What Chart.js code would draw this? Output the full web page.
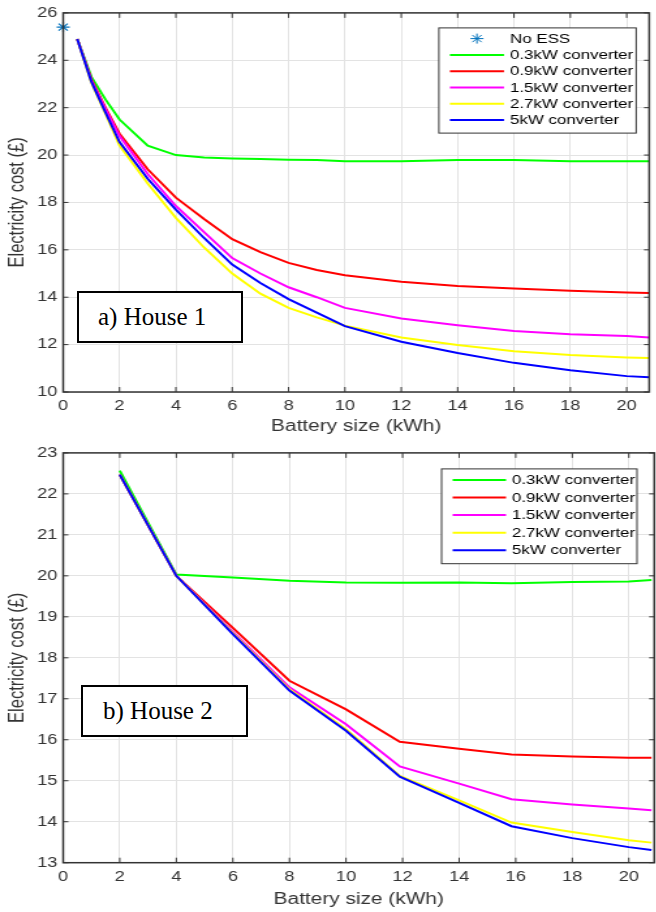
<!DOCTYPE html>
<html>
<head>
<meta charset="utf-8">
<script src="https://cdn.jsdelivr.net/npm/chart.js@4.4.1/dist/chart.umd.min.js"></script>
<style>
  body { margin: 0; background: #fff; width: 656px; height: 912px; overflow: hidden; position: relative; }
  .wrap { position: absolute; left: 0; transform-origin: 0 0; }
  .tag {
    position: absolute; box-sizing: border-box; border: 2px solid #000; background: #fff;
    font-family: "Liberation Serif", "Times New Roman", serif; font-size: 25px; color: #000;
    height: 52px; line-height: 47px; white-space: nowrap;
  }
</style>
</head>
<body>
<div class="wrap" id="w1"><canvas id="house1"></canvas></div>
<div class="wrap" id="w2"><canvas id="house2"></canvas></div>
<div class="tag" style="left:77px;top:291px;width:166px;padding-left:19px">a) House 1</div>
<div class="tag" style="left:81px;top:685px;width:167px;padding-left:20px">b) House 2</div>
<script>
// the original figure is stretched sideways, so draw narrow and widen with css
const SX = 1.3;

const seriesLabels = ['0.3kW converter', '0.9kW converter', '1.5kW converter', '2.7kW converter', '5kW converter'];
const seriesColors = ['#00ff00', '#ff0000', '#ff00ff', '#ffff00', '#0000ff'];

// House 1 (battery size kWh -> cost)
const xs1 = [0.5, 1, 1.5, 2, 3, 4, 5, 6, 7, 8, 9, 10, 12, 14, 16, 18, 20, 20.8];
const h1_03 = [24.9, 23.3, 22.35, 21.5, 20.4, 20.0, 19.9, 19.86, 19.83, 19.8, 19.79, 19.74, 19.74, 19.79, 19.79, 19.74, 19.74, 19.74];
const h1_09 = [24.9, 23.2, 22.0, 20.9, 19.4, 18.2, 17.3, 16.45, 15.9, 15.45, 15.15, 14.93, 14.65, 14.47, 14.37, 14.27, 14.2, 14.18];
const h1_15 = [24.9, 23.15, 21.95, 20.8, 19.2, 17.85, 16.75, 15.65, 15.0, 14.42, 14.0, 13.55, 13.1, 12.82, 12.57, 12.44, 12.36, 12.3];
const h1_27 = [24.9, 23.05, 21.75, 20.4, 18.8, 17.35, 16.1, 15.0, 14.15, 13.55, 13.15, 12.8, 12.3, 11.98, 11.72, 11.56, 11.46, 11.43];
const h1_5 = [24.9, 23.1, 21.8, 20.55, 19.0, 17.7, 16.5, 15.38, 14.6, 13.92, 13.35, 12.78, 12.12, 11.65, 11.23, 10.92, 10.67, 10.62];
const noEssX = [0];
const noEssY = [25.4];

// House 2
const xs2 = [2, 4, 6, 8, 10, 11.9, 14, 15.85, 18, 20, 20.8];
const h2_03 = [22.57, 20.03, 19.96, 19.88, 19.84, 19.83, 19.84, 19.82, 19.85, 19.86, 19.9];
const h2_09 = [22.47, 20.0, 18.73, 17.44, 16.74, 15.95, 15.78, 15.64, 15.59, 15.56, 15.56];
const h2_15 = [22.47, 20.0, 18.63, 17.28, 16.38, 15.35, 14.93, 14.55, 14.42, 14.32, 14.28];
const h2_27 = [22.47, 20.0, 18.6, 17.23, 16.26, 15.12, 14.52, 13.98, 13.75, 13.55, 13.49];
const h2_5 = [22.47, 20.0, 18.58, 17.2, 16.22, 15.1, 14.46, 13.89, 13.6, 13.38, 13.31];

Chart.defaults.font.family = '"Liberation Sans", Arial, sans-serif';
Chart.defaults.color = '#333';

// legend drawn inside the plot with a box round it
const boxLegend = {
  id: 'boxLegend',
  afterDraw(chart, args, o) {
    const { ctx, chartArea: a } = chart;
    const items = chart.data.datasets;
    const x0 = a.right - o.right - o.width;
    const y0 = a.top + o.top;
    const h = o.padTop + o.padBottom + (items.length - 1) * o.rowH;
    ctx.save();
    ctx.fillStyle = '#fff';
    ctx.fillRect(x0, y0, o.width, h);
    ctx.strokeStyle = '#333';
    ctx.lineWidth = 1;
    ctx.strokeRect(x0, y0, o.width, h);
    ctx.font = '13px "Liberation Sans", Arial, sans-serif';
    ctx.textBaseline = 'middle';
    items.forEach((ds, i) => {
      const y = y0 + o.padTop + i * o.rowH;
      if (ds.showLine === false) {
        ctx.strokeStyle = ds.borderColor;
        Chart.helpers.drawPoint(ctx, { pointStyle: 'star', radius: 5, rotation: 0, borderWidth: 1.2 }, x0 + (o.lineFrom + o.lineTo) / 2, y);
      } else {
        ctx.strokeStyle = ds.borderColor;
        ctx.lineWidth = 2;
        ctx.beginPath();
        ctx.moveTo(x0 + o.lineFrom, y);
        ctx.lineTo(x0 + o.lineTo, y);
        ctx.stroke();
      }
      ctx.fillStyle = '#000';
      ctx.fillText(ds.label, x0 + o.textX, y + 0.5);
    });
    ctx.restore();
  }
};

// matlab style box with inward ticks
const boxFrame = {
  id: 'boxFrame',
  afterDatasetsDraw(chart) {
    const { ctx, chartArea: a, scales: { x, y } } = chart;
    ctx.save();
    ctx.strokeStyle = '#333';
    ctx.lineWidth = 1;
    ctx.beginPath();
    x.ticks.forEach(t => {
      const px = x.getPixelForValue(t.value);
      ctx.moveTo(px, a.bottom); ctx.lineTo(px, a.bottom - 5);
      ctx.moveTo(px, a.top); ctx.lineTo(px, a.top + 5);
    });
    y.ticks.forEach(t => {
      const py = y.getPixelForValue(t.value);
      ctx.moveTo(a.left, py); ctx.lineTo(a.left + 4, py);
      ctx.moveTo(a.right, py); ctx.lineTo(a.right - 4, py);
    });
    ctx.stroke();
    ctx.lineWidth = 1.5;
    ctx.strokeRect(a.left, a.top, a.width, a.height);
    ctx.restore();
  }
};

function lineSets(xs, ys) {
  return ys.map((vals, i) => ({
    label: seriesLabels[i],
    data: xs.map((x, j) => ({ x: x, y: vals[j] })),
    borderColor: seriesColors[i],
    backgroundColor: seriesColors[i],
    borderWidth: 2,
    pointRadius: 0,
    tension: 0,
    fill: false,
    order: 4 - i
  }));
}

function makeChart(id, wrapId, heightPx, datasets, yMin, yMax, yStep, xMax, pad, xAxisH, titlePad, legendOpts) {
  const wrap = document.getElementById(wrapId);
  wrap.style.width = (656 / SX) + 'px';
  wrap.style.height = heightPx + 'px';
  wrap.style.transform = 'scaleX(' + SX + ')';
  return new Chart(document.getElementById(id), {
    type: 'line',
    data: { datasets: datasets },
    options: {
      responsive: true,
      maintainAspectRatio: false,
      animation: false,
      layout: { padding: pad },
      plugins: { legend: { display: false }, tooltip: { enabled: false }, boxLegend: legendOpts },
      scales: {
        x: {
          type: 'linear', min: 0, max: xMax,
          grid: { color: '#e3e3e3', drawTicks: false },
          border: { display: false },
          ticks: { stepSize: 2, includeBounds: false, padding: 6, maxRotation: 0, font: { size: 14 }, color: '#333' },
          title: { display: true, text: 'Battery size (kWh)', font: { size: 16 }, color: '#333', padding: { top: 0, bottom: titlePad } },
          afterFit(s) { s.height = xAxisH; }
        },
        y: {
          min: yMin, max: yMax,
          grid: { color: '#e3e3e3', drawTicks: false },
          border: { display: false },
          ticks: { stepSize: yStep, padding: 4.5, font: { size: 14 }, color: '#333' },
          title: { display: true, text: 'Electricity cost (£)', font: { size: 16.5 }, color: '#333', padding: { top: 4, bottom: 0 } },
          afterFit(s) { s.width = 48.5; }
        }
      }
    },
    plugins: [boxFrame, boxLegend]
  });
}

const sets1 = [{
  label: 'No ESS',
  data: noEssX.map((x, j) => ({ x: x, y: noEssY[j] })),
  showLine: false,
  clip: false,
  pointStyle: 'star',
  pointRadius: 5,
  pointBorderWidth: 1.2,
  borderColor: '#0072bd',
  backgroundColor: '#0072bd',
  order: 0
}].concat(lineSets(xs1, [h1_03, h1_09, h1_15, h1_27, h1_5]));

makeChart('house1', 'w1', 440, sets1, 10, 26, 2, 20.8,
  { top: 11, right: 1, left: 0, bottom: 0 }, 48, 4,
  { right: 10, top: 15, width: 151.5, rowH: 16.3, padTop: 10.7, padBottom: 13, lineFrom: 8.5, lineTo: 50, textX: 54.6 });

const w2 = document.getElementById('w2');
w2.style.top = '440px';
makeChart('house2', 'w2', 472, lineSets(xs2, [h2_03, h2_09, h2_15, h2_27, h2_5]), 13, 23, 1, 20.9,
  { top: 10.7, right: 2.3, left: 0, bottom: 0 }, 49.3, 3,
  { right: 13.3, top: 16, width: 150, rowH: 17.6, padTop: 11, padBottom: 13.4, lineFrom: 8.5, lineTo: 49.5, textX: 54 });
</script>
</body>
</html>
